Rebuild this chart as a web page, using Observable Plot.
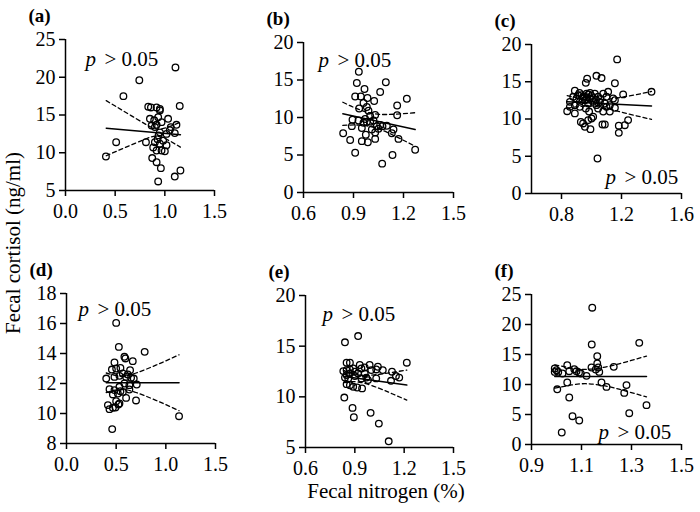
<!DOCTYPE html>
<html><head><meta charset="utf-8">
<script src="https://cdn.jsdelivr.net/npm/d3@7"></script>
<script src="https://cdn.jsdelivr.net/npm/@observablehq/plot@0.6"></script>
<style>
body{margin:0;background:#fff;}
#root{position:relative;width:700px;height:512px;overflow:hidden;background:#fff;font-family:"Liberation Serif","Times New Roman",serif;}
#root > svg{position:absolute;}
</style></head>
<body><div id="root"></div>
<script>
// ---------- data ----------
const labels = ["(a)", "(b)", "(c)", "(d)", "(e)", "(f)"];
const pText = ["p", "> 0.05"];
const xTitle = "Fecal nitrogen (%)";
const yTitle = "Fecal cortisol (ng/ml)";

const ticksX_A = [0, 0.5, 1.0, 1.5];
const ticksY_A = [5, 10, 15, 20, 25];
const ticksX_B = [0.6, 0.9, 1.2, 1.5];
const ticksY_B = [0, 5, 10, 15, 20];
const ticksX_C = [0.8, 1.2, 1.6];
const ticksY_C = [0, 5, 10, 15, 20];
const ticksX_D = [0, 0.5, 1.0, 1.5];
const ticksY_D = [8, 10, 12, 14, 16, 18];
const ticksX_E = [0.6, 0.9, 1.2, 1.5];
const ticksY_E = [5, 10, 15, 20];
const ticksX_F = [0.9, 1.1, 1.3, 1.5];
const ticksY_F = [0, 5, 10, 15, 20, 25];

const ptsA = [[1.107,21.3],[0.743,19.6],[0.583,17.5],[0.833,16.1],[0.86,16.0],[0.917,16.0],[0.95,15.8],[1.15,16.2],[0.51,11.4],[0.407,9.5],[0.81,11.4],[0.873,9.3],[0.917,8.75],[0.96,7.96],[0.933,6.2],[1.1,6.85],[1.157,7.65],[0.85,14.5],[0.893,14.3],[0.933,14.7],[0.95,15.6],[1.033,14.5],[0.967,14.05],[1.06,13.4],[1.117,13.7],[1.1,12.6],[1.017,12.5],[0.95,12.7],[0.9,13.4],[0.867,13.6],[0.917,13.7],[0.937,12.3],[0.9,11.4],[0.95,11.2],[1.017,11.0],[0.883,10.7],[0.917,10.3],[0.967,10.3],[1.0,10.2],[0.927,11.8],[0.983,11.6],[1.05,13.0]];
const ptsB = [[0.932,16.1],[0.92,14.6],[1.094,14.7],[0.966,13.8],[1.06,13.4],[0.91,12.8],[0.944,12.8],[0.984,12.6],[1.024,12.2],[0.96,11.95],[1.22,12.5],[1.162,11.6],[0.934,11.2],[0.98,11.4],[0.99,10.9],[1.03,10.35],[1.0,10.2],[1.162,10.3],[0.894,9.7],[0.97,9.8],[1.02,9.6],[0.89,8.85],[0.95,8.6],[1.04,8.85],[1.06,9.0],[1.074,8.85],[1.05,8.5],[1.1,8.9],[1.14,8.4],[1.01,8.4],[0.974,7.7],[1.03,8.0],[0.838,7.9],[1.13,7.9],[0.88,7.0],[0.95,6.85],[0.986,6.7],[1.03,7.15],[1.17,7.15],[1.27,5.7],[0.91,5.3],[1.134,5.0],[1.072,3.85],[0.98,9.4],[1.0,9.45],[0.96,9.3],[0.93,9.6]];
const ptsC = [[1.171,18.0],[1.033,15.8],[1.067,15.5],[0.971,15.4],[0.962,14.85],[1.156,14.8],[1.4,13.65],[1.211,13.3],[0.889,13.8],[0.838,11.05],[0.889,10.75],[1.156,11.5],[1.122,11.0],[1.078,11.0],[0.984,11.0],[1.011,10.3],[1.0,10.07],[0.978,9.85],[0.929,9.6],[0.944,9.4],[0.956,8.95],[0.993,8.64],[1.073,9.26],[1.089,9.26],[1.182,9.1],[1.222,9.17],[1.182,8.14],[1.244,9.85],[1.04,4.7],[0.9,12.75],[0.933,13.2],[0.967,13.4],[1.0,13.1],[1.022,13.4],[1.044,12.98],[1.078,13.4],[1.111,13.65],[1.1,12.98],[1.144,12.75],[1.156,12.53],[0.956,12.53],[0.922,12.3],[0.978,12.08],[1.011,12.3],[1.056,12.3],[1.089,12.08],[1.122,11.86],[1.033,11.86],[0.989,12.75],[0.944,12.98],[0.889,11.86],[0.922,11.63],[0.962,11.4],[1.044,11.4],[1.1,11.63],[0.911,13.2],[0.878,12.98],[0.856,12.3],[0.856,11.63],[0.95,13.0],[0.98,13.3],[1.01,12.8],[1.03,12.6],[0.97,12.9],[0.94,12.7],[1.06,12.7],[0.99,13.5],[0.92,13.5]];
const ptsD = [[0.5,16.04],[0.527,14.44],[0.787,14.11],[0.583,13.78],[0.593,13.67],[0.667,13.49],[0.483,13.4],[0.457,12.93],[0.5,13.0],[0.543,13.04],[0.64,12.89],[0.567,12.67],[0.617,12.6],[0.6,12.44],[0.4,12.33],[0.483,12.44],[0.533,12.51],[0.677,12.33],[0.65,12.38],[0.707,11.93],[0.583,12.0],[0.633,11.89],[0.533,11.78],[0.433,11.62],[0.483,11.56],[0.543,11.49],[0.633,11.6],[0.467,11.27],[0.517,11.33],[0.567,11.44],[0.6,11.04],[0.7,10.87],[0.5,10.82],[0.533,10.67],[0.417,10.56],[0.433,10.29],[0.467,10.38],[0.493,10.4],[0.523,10.6],[1.133,9.82],[0.46,8.96]];
const ptsE = [[0.92,16.0],[0.84,15.38],[1.216,13.37],[0.85,13.37],[0.87,13.37],[0.93,13.14],[0.94,12.8],[0.99,13.14],[1.04,12.97],[0.96,12.9],[1.0,12.64],[1.126,12.48],[0.83,12.54],[0.85,12.64],[0.87,12.7],[0.89,12.8],[1.15,12.05],[1.17,11.9],[1.12,11.58],[1.03,11.82],[0.98,11.65],[0.9,12.05],[0.94,11.82],[0.84,11.9],[0.86,11.82],[0.85,11.25],[0.87,11.15],[0.89,10.99],[0.914,10.92],[0.944,10.83],[0.836,9.93],[0.886,8.91],[0.894,7.99],[0.996,8.42],[1.046,7.36],[1.106,5.61],[0.87,12.31],[0.9,12.48],[0.92,12.31],[0.96,12.31],[0.85,12.15],[1.03,12.7],[1.07,12.64],[0.97,11.9]];
const ptsF = [[1.143,22.8],[1.141,16.67],[1.331,16.94],[1.163,14.72],[1.163,13.5],[1.14,12.83],[1.167,12.83],[1.229,12.94],[1.043,13.22],[0.993,12.67],[1.0,12.39],[0.993,12.1],[1.007,12.1],[1.024,11.83],[1.051,12.22],[1.071,12.56],[1.08,12.22],[1.09,12.0],[1.097,11.83],[1.12,11.44],[1.157,12.5],[1.171,12.1],[1.18,10.33],[1.2,9.6],[1.28,9.9],[1.271,8.6],[1.003,9.2],[1.043,10.33],[1.051,7.83],[1.064,4.72],[1.091,4.0],[1.021,2.0],[1.291,5.22],[1.36,6.56]];

// regression lines (end points) and 95% confidence band
const fitXA = [0.41, 1.157],  fitYA = [13.26, 12.40];
const bandXA = [0.41, 0.6, 0.8, 0.93, 1.05, 1.157];
const bandUpA = [16.9, 15.4, 13.83, 13.13, 13.48, 14.05];
const bandLoA = [9.6, 10.69, 11.79, 12.19, 11.56, 10.75];

const fitXB = [0.836, 1.27],  fitYB = [10.49, 8.40];
const bandXB = [0.836, 0.92, 1.0, 1.1, 1.27];
const bandUpB = [12.03, 11.18, 10.60, 10.40, 10.64];
const bandLoB = [8.95, 9.00, 8.80, 8.04, 6.16];

const fitXC = [0.838, 1.4],   fitYC = [12.3, 11.75];
const bandXC = [0.838, 0.92, 1.0, 1.1, 1.25, 1.4];
const bandUpC = [13.14, 12.76, 12.53, 12.64, 13.09, 13.7];
const bandLoC = [11.46, 11.68, 11.73, 11.42, 10.67, 9.95];

const fitXD = [0.4, 1.133],   fitYD = [12.05, 12.05];
const bandXD = [0.4, 0.55, 0.7, 0.9, 1.133];
const bandUpD = [12.7, 12.5, 12.7, 13.22, 13.91];
const bandLoD = [11.4, 11.6, 11.4, 10.88, 10.19];

const fitXE = [0.836, 1.216], fitYE = [12.0, 11.16];
const bandXE = [0.836, 0.93, 1.05, 1.13, 1.216];
const bandUpE = [12.59, 12.14, 12.23, 12.42, 12.64];
const bandLoE = [11.41, 11.44, 10.83, 10.28, 9.68];

const fitXF = [0.993, 1.36],  fitYF = [11.33, 11.33];
const bandXF = [0.993, 1.06, 1.117, 1.18, 1.25, 1.36];
const bandUpF = [13.28, 12.74, 12.53, 12.79, 13.44, 14.73];
const bandLoF = [9.38, 9.92, 10.13, 9.87, 9.22, 7.93];

// ---------- layout ----------
const FONT = '"Liberation Serif","Times New Roman",serif';
const M = {l: 50, r: 25, t: 45, b: 45};
const panels = [
  {label: labels[0], left: 65,  top: 39,  w: 149, h: 151, xd: [0, 1.5], yd: [5, 25], xt: ticksX_A, yt: ticksY_A, pts: ptsA, fx: fitXA, fy: fitYA, bx: bandXA, bu: bandUpA, bl: bandLoA, pdx: 20, pdy: 26},
  {label: labels[1], left: 303, top: 42,  w: 150, h: 150, xd: [0.6, 1.5], yd: [0, 20], xt: ticksX_B, yt: ticksY_B, pts: ptsB, fx: fitXB, fy: fitYB, bx: bandXB, bu: bandUpB, bl: bandLoB, pdx: 15, pdy: 24},
  {label: labels[2], left: 531, top: 44,  w: 150, h: 149, xd: [0.6, 1.6], yd: [0, 20], xt: ticksX_C, yt: ticksY_C, pts: ptsC, fx: fitXC, fy: fitYC, bx: bandXC, bu: bandUpC, bl: bandLoC, pdx: 74, pdy: 139},
  {label: labels[3], left: 66,  top: 293, w: 149, h: 150, xd: [0, 1.5], yd: [8, 18], xt: ticksX_D, yt: ticksY_D, pts: ptsD, fx: fitXD, fy: fitYD, bx: bandXD, bu: bandUpD, bl: bandLoD, pdx: 12, pdy: 22},
  {label: labels[4], left: 305, top: 295, w: 148, h: 152, xd: [0.6, 1.5], yd: [5, 20], xt: ticksX_E, yt: ticksY_E, pts: ptsE, fx: fitXE, fy: fitYE, bx: bandXE, bu: bandUpE, bl: bandLoE, pdx: 17, pdy: 25},
  {label: labels[5], left: 531, top: 294, w: 150, h: 150, xd: [0.9, 1.5], yd: [0, 25], xt: ticksX_F, yt: ticksY_F, pts: ptsF, fx: fitXF, fy: fitYF, bx: bandXF, bu: bandUpF, bl: bandLoF, pdx: 67, pdy: 144}
];

const root = document.getElementById("root");

// axis titles (overlay)
const over = d3.select(root).append("svg")
  .attr("width", 700).attr("height", 512)
  .style("left", "0px").style("top", "0px")
  .attr("font-family", FONT);
over.append("text").attr("x", 386).attr("y", 498).attr("text-anchor", "middle")
  .attr("font-size", 21).text(xTitle);
over.append("text").attr("transform", "translate(20,243) rotate(-90)").attr("text-anchor", "middle")
  .attr("font-size", 21).text(yTitle);

for (const p of panels) {
  const fit = p.fx.map((x, i) => ({x, y: p.fy[i]}));
  const up = p.bx.map((x, i) => ({x, y: p.bu[i]}));
  const lo = p.bx.map((x, i) => ({x, y: p.bl[i]}));
  const chart = Plot.plot({
    width: M.l + p.w + M.r, height: M.t + p.h + M.b,
    marginLeft: M.l, marginRight: M.r, marginTop: M.t, marginBottom: M.b,
    style: {fontFamily: FONT, fontSize: "20px", color: "#000", background: "transparent", overflow: "visible"},
    x: {domain: p.xd},
    y: {domain: p.yd},
    marks: [
      Plot.axisX({ticks: p.xt, tickFormat: d3.format(".1f"), tickSize: 6, tickPadding: 7, fontSize: 20, strokeWidth: 1.5, label: null}),
      Plot.axisY({ticks: p.yt, tickFormat: d3.format("d"), tickSize: 6, tickPadding: 4, fontSize: 20, strokeWidth: 1.5, label: null}),
      Plot.ruleX([p.xd[0]], {stroke: "#000", strokeWidth: 1.5}),
      Plot.ruleY([p.yd[0]], {stroke: "#000", strokeWidth: 1.5}),
      Plot.dot(p.pts, {x: d => d[0], y: d => d[1], r: 3.3, stroke: "#000", strokeWidth: 1.3, fill: "none"}),
      Plot.line(fit, {x: "x", y: "y", stroke: "#000", strokeWidth: 1.5}),
      Plot.line(up, {x: "x", y: "y", curve: "natural", stroke: "#000", strokeWidth: 1.3, strokeDasharray: "4,3"}),
      Plot.line(lo, {x: "x", y: "y", curve: "natural", stroke: "#000", strokeWidth: 1.3, strokeDasharray: "4,3"}),
      Plot.text([p.label], {text: d => d, frameAnchor: "top-left", dx: -37, dy: -18, textAnchor: "start", lineAnchor: "bottom", fontWeight: "bold", fontSize: 19}),
      Plot.text([pText[0]], {text: d => d, frameAnchor: "top-left", dx: p.pdx, dy: p.pdy, textAnchor: "start", lineAnchor: "bottom", fontStyle: "italic", fontSize: 21}),
      Plot.text([pText[1]], {text: d => d, frameAnchor: "top-left", dx: p.pdx + 19, dy: p.pdy, textAnchor: "start", lineAnchor: "bottom", fontSize: 21, style: "word-spacing:3px"})
    ]
  });
  chart.style.position = "absolute";
  chart.style.left = (p.left - M.l) + "px";
  chart.style.top = (p.top - M.t) + "px";
  root.appendChild(chart);
}
</script>
</body></html>
